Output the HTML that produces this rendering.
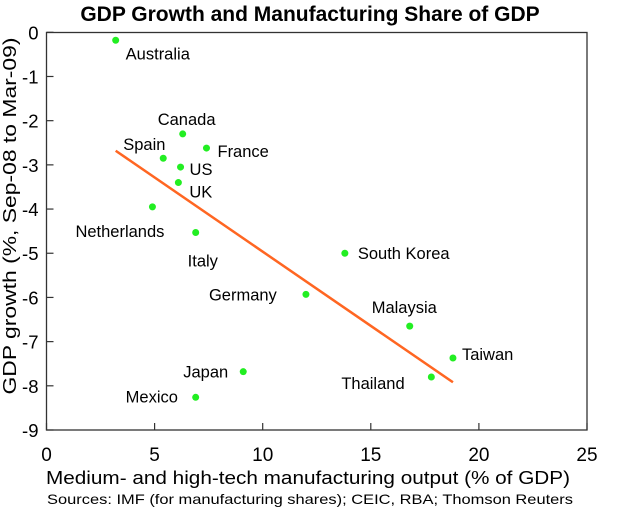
<!DOCTYPE html>
<html><head><meta charset="utf-8"><style>
body{margin:0;background:#fff;}
svg{display:block;font-family:"Liberation Sans",Arial,sans-serif;}
</style></head><body>
<svg id="chart" width="619" height="511" viewBox="0 0 619 511">
<text x="310" y="21" text-anchor="middle" font-size="21" font-weight="bold">GDP Growth and Manufacturing Share of GDP</text>
<rect x="46.5" y="32.5" width="540.5" height="397.5" fill="none" stroke="#333" stroke-width="1.3"/>
<g id="axes"></g>
<g id="marks"></g>
<text transform="translate(16,216) rotate(-90)" text-anchor="middle" font-size="18" textLength="357" lengthAdjust="spacingAndGlyphs">GDP growth (%, Sep-08 to Mar-09)</text>
<text x="308" y="484" text-anchor="middle" font-size="18.5" textLength="524" lengthAdjust="spacingAndGlyphs">Medium- and high-tech manufacturing output (% of GDP)</text>
<text x="310" y="504" text-anchor="middle" font-size="14" textLength="526" lengthAdjust="spacingAndGlyphs">Sources: IMF (for manufacturing shares); CEIC, RBA; Thomson Reuters</text>
</svg>
<script>
const countries=["Australia","Canada","France","Spain","US","UK","Netherlands","Italy","South Korea","Germany","Malaysia","Taiwan","Thailand","Japan","Mexico"];
const manuShare=[3.2,6.3,7.4,5.4,6.2,6.1,4.9,6.9,13.8,12.0,16.8,18.8,17.8,9.1,6.9];
const gdpGrowth=[-0.18,-2.3,-2.62,-2.85,-3.05,-3.4,-3.95,-4.53,-5.0,-5.93,-6.65,-7.37,-7.8,-7.68,-8.26];
const labelDx=[10,-25,11,-40,9,11,-77,-8,13,-97,-38,9,-90,-60,-70];
const labelDy=[19,-9,9,-8,8,15,30,34,6,6,-13,2,12,6,5];
const trendX=[3.2,18.8];
const trendY=[-2.68,-7.92];
const xTicks=[0,5,10,15,20,25];
const yTicks=[0,-1,-2,-3,-4,-5,-6,-7,-8,-9];
const X0=46.5,X1=587,Y0=32.3,Y1=430;
function sx(v){return X0+(v-0)/25*(X1-X0);}
function sy(v){return Y0+(0-v)/9*(Y1-Y0);}
const NS="http://www.w3.org/2000/svg";
function mk(tag,attrs,parent){const e=document.createElementNS(NS,tag);for(const k in attrs)e.setAttribute(k,attrs[k]);parent.appendChild(e);return e;}
const axes=document.getElementById('axes'),marks=document.getElementById('marks');
xTicks.forEach(t=>{
  const l=mk('line',{x1:sx(t),x2:sx(t),y1:Y1,y2:Y1-7,stroke:'#333','stroke-width':1.2},axes);
  
  
  const tx=mk('text',{x:sx(t),y:Y1+31,'text-anchor':'middle','font-size':19},axes);
  tx.textContent=t;
  
  
});
yTicks.forEach(t=>{
  const l=mk('line',{x1:X0,x2:X0+7,y1:sy(t),y2:sy(t),stroke:'#333','stroke-width':1.2},axes);
  
  
  const tx=mk('text',{x:X0-8,y:sy(t)+7,'text-anchor':'end','font-size':18.5},axes);
  tx.textContent=t;
  
  
});
const tl=mk('line',{x1:sx(trendX[0]),y1:sy(trendY[0]),x2:sx(trendX[1]),y2:sy(trendY[1]),stroke:'#FF6622','stroke-width':2.5},marks);


countries.forEach((c,i)=>{
  const cx=sx(manuShare[i]),cy=sy(gdpGrowth[i]);
  const d=mk('circle',{cx:cx,cy:cy,r:3.5,fill:'#22EE22'},marks);
  
  
  const t=mk('text',{x:cx+labelDx[i],y:cy+labelDy[i],'font-size':16.5},marks);
  t.textContent=c;
  
  
});
</script>
</body></html>
